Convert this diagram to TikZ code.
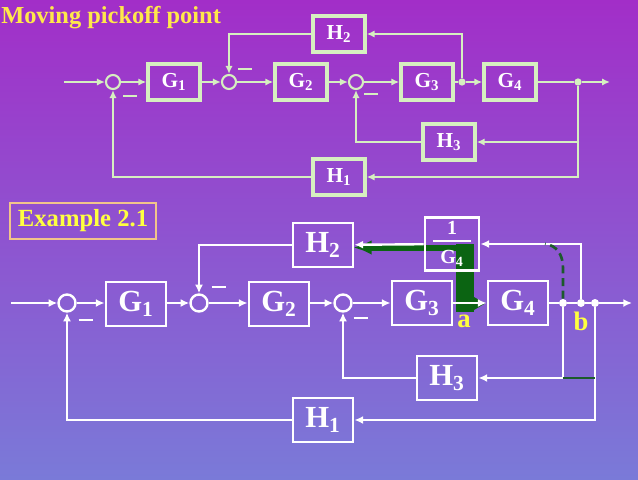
\documentclass[tikz,border=0pt]{standalone}
\usepackage{fontspec}
\setmainfont{Liberation Serif}
\usetikzlibrary{arrows,arrows.meta,positioning,calc}
\definecolor{bgtop}{HTML}{A22EC8}
\definecolor{bgbot}{HTML}{7A7AD8}
\definecolor{pale}{HTML}{D6EFC0}
\definecolor{gold}{HTML}{FFE84A}
\definecolor{lemon}{HTML}{FFFF40}
\definecolor{dkgreen}{HTML}{0B6412}
\definecolor{dashgreen}{HTML}{1C5A2C}
\definecolor{tan}{HTML}{F2C48A}

\begin{document}
\begin{tikzpicture}[x=0.75pt,y=-0.75pt,
    tline/.style={draw=pale,line width=1.9pt},
    tarrow/.style={tline,-{Latex[length=6pt,width=5.5pt]}},
    tblock/.style={draw=pale,line width=2.6pt,minimum width=39pt,minimum height=27pt,inner sep=0pt,text=white,font=\fontsize{16}{18}\selectfont\bfseries},
    tsum/.style={circle,draw=pale,line width=1.6pt,minimum size=10.5pt,inner sep=0pt},
    tdot/.style={circle,fill=pale,minimum size=5.5pt,inner sep=0pt},
    tminus/.style={text=pale,inner sep=0pt},
    bline/.style={draw=white,line width=1.8pt},
    barrow/.style={bline,-{Latex[length=6.5pt,width=6pt]}},
    bblock/.style={draw=white,line width=2.2pt,minimum width=45pt,minimum height=33pt,inner sep=0pt,text=white,font=\fontsize{23}{25}\selectfont\bfseries},
    bsum/.style={circle,draw=white,line width=1.8pt,minimum size=12.75pt,inner sep=0pt},
    bdot/.style={circle,fill=white,minimum size=6pt,inner sep=0pt},
    bminus/.style={text=white,inner sep=0pt},
    tag/.style={text=lemon,inner sep=0pt,font=\fontsize{20}{22}\selectfont\bfseries}]

    % background
    \shade[top color=bgtop,bottom color=bgbot] (0,0) rectangle (638,479);

    % moving pickoff point (upper diagram)
    \node[anchor=west,text=gold,inner sep=0pt,font=\fontsize{18.3}{20}\selectfont\bfseries] (ttitle) at (1,18) {Moving pickoff point};
    \coordinate (tin) at (64,82);
    \coordinate (tout) at (610,82);
    \node[tsum] (ts1) at (113,82) {};
    \node[tblock] (tg1) at (174,82) {G\textsubscript{1}};
    \node[tsum] (ts2) at (229,82) {};
    \node[tblock] (tg2) at (301,82) {G\textsubscript{2}};
    \node[tsum] (ts3) at (356,82) {};
    \node[tblock] (tg3) at (427,82) {G\textsubscript{3}};
    \node[tdot] (td1) at (462,82) {};
    \node[tblock] (tg4) at (510,82) {G\textsubscript{4}};
    \node[tdot] (td2) at (578,82) {};
    \node[tblock] (th2) at (339,34) {H\textsubscript{2}};
    \node[tblock] (th3) at (449,142) {H\textsubscript{3}};
    \node[tblock] (th1) at (339,177) {H\textsubscript{1}};
    \node[tminus] (tm1) at (130,96) {\rule{10pt}{2pt}};
    \node[tminus] (tm2) at (245,69) {\rule{10pt}{2pt}};
    \node[tminus] (tm3) at (371,94) {\rule{10pt}{2pt}};

    \draw[tarrow] (tin) -- (ts1);
    \draw[tarrow] (ts1) -- (tg1);
    \draw[tarrow] (tg1) -- (ts2);
    \draw[tarrow] (ts2) -- (tg2);
    \draw[tarrow] (tg2) -- (ts3);
    \draw[tarrow] (ts3) -- (tg3);
    \draw[tline] (tg3) -- (td1);
    \draw[tarrow] (td1) -- (tg4);
    \draw[tline] (tg4) -- (td2);
    \draw[tarrow] (td2) -- (tout);
    \draw[tarrow] (td1) |- (th2);
    \draw[tarrow] (th2) -| (ts2);
    \draw[tarrow] (td2) |- (th3);
    \draw[tarrow] (th3) -| (ts3);
    \draw[tarrow] (td2) |- (th1);
    \draw[tarrow] (th1) -| (ts1);

    % example 2.1 (lower diagram)
    \node[draw=tan,line width=0.8pt,minimum width=109.5pt,minimum height=27pt,inner sep=0pt,text=lemon,font=\fontsize{18.5}{20}\selectfont\bfseries] (ex) at (83,221) {Example 2.1};

    % green marks
    \fill[dkgreen] (456,244) rectangle (474,312);
    \fill[dkgreen] (474,297) -- (485,303.5) -- (474,310) -- cycle;
    \draw[dkgreen,line width=4.5pt,-{Latex[length=14pt,width=11pt]}] (474,247.5) -- (353,247.5);

    \coordinate (bin) at (11,303);
    \coordinate (bout) at (632,303);
    \node[bsum] (bs1) at (67,303) {};
    \node[bblock] (bg1) at (136,304) {G\textsubscript{1}};
    \node[bsum] (bs2) at (199,303) {};
    \node[bblock] (bg2) at (279,304) {G\textsubscript{2}};
    \node[bsum] (bs3) at (343,303) {};
    \node[bblock] (bg3) at (422,303) {G\textsubscript{3}};
    \node[bblock] (bg4) at (518,303) {G\textsubscript{4}};
    \node[bdot] (bd1) at (563,303) {};
    \node[bdot] (bd2) at (581,303) {};
    \node[bdot] (bd3) at (595,303) {};
    \node[bblock] (bh2) at (323,245) {H\textsubscript{2}};
    \node[bblock,minimum width=40.5pt,minimum height=40pt,font=\fontsize{15}{18}\selectfont\bfseries,align=center] (bfrac) at (452,244)
        {1\\[-13pt]\rule{28pt}{1.5pt}\\[-1.5pt]G\textsubscript{4}};
    \node[bblock] (bh3) at (447,378) {H\textsubscript{3}};
    \node[bblock] (bh1) at (323,420) {H\textsubscript{1}};
    \node[bminus] (bm1) at (86,320) {\rule{11pt}{2.2pt}};
    \node[bminus] (bm2) at (219,287) {\rule{11pt}{2.2pt}};
    \node[bminus] (bm3) at (361,318) {\rule{11pt}{2.2pt}};
    \node[tag] (la) at (464,321) {a};
    \node[tag] (lb) at (581,321) {b};

    \draw[barrow] (bin) -- (bs1);
    \draw[barrow] (bs1) -- (bg1.west |- bs1);
    \draw[barrow] (bg1.east |- bs2) -- (bs2);
    \draw[barrow] (bs2) -- (bg2.west |- bs2);
    \draw[barrow] (bg2.east |- bs3) -- (bs3);
    \draw[barrow] (bs3) -- (bg3);
    \draw[barrow] (bg3) -- (bg4);
    \draw[bline] (bg4) -- (bd1) -- (bd2) -- (bd3);
    \draw[barrow] (bd3) -- (bout);
    \draw[barrow] (bd2) |- (bfrac);
    \draw[barrow] (bfrac) -- (bh2);
    \draw[barrow] (bh2) -| (bs2);
    \draw[barrow] (bd1) |- (bh3);
    \draw[barrow] (bh3) -| (bs3);
    \draw[barrow] (bd3) |- (bh1);
    \draw[barrow] (bh1) -| (bs1);
    \draw[dashgreen,line width=2pt] (bd1 |- bh3) -- (bd3 |- bh3);
    \draw[dashgreen,line width=2pt,dash pattern=on 6pt off 3.5pt] (bd1) -- ++(0,-35) .. controls ++(0,-14) and (556,245) .. (545,244);
\end{tikzpicture}
\end{document}
